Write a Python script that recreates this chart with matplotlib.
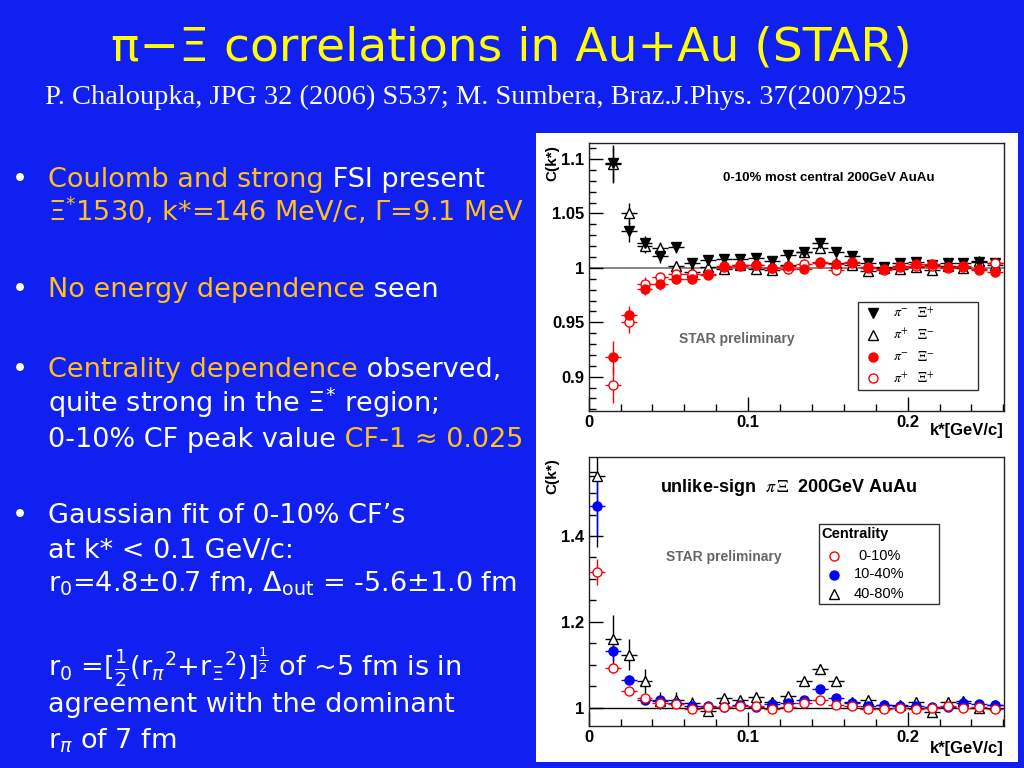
import matplotlib
matplotlib.use('Agg')
import matplotlib.pyplot as plt
from matplotlib.patches import Rectangle
from matplotlib.ticker import MultipleLocator

# ---------------- data ----------------
k_top = [0.015, 0.025, 0.035, 0.045, 0.055, 0.065, 0.075, 0.085, 0.095, 0.105,
         0.115, 0.125, 0.135, 0.145, 0.155, 0.165, 0.175, 0.185, 0.195, 0.205,
         0.215, 0.225, 0.235, 0.245, 0.255]
pim_xip = [1.096, 1.0335, 1.023, 1.0107, 1.019, 1.004, 1.007, 1.0085, 1.008, 1.009,
           1.0067, 1.0116, 1.015, 1.023, 1.0146, 1.011, 1.004, 1.001, 1.004, 1.005,
           1.003, 1.0046, 1.0046, 1.005, 1.0046]
pim_xip_err = [0.017, 0.010, 0.006, 0.006, 0.005, 0.004, 0.004, 0.004, 0.004, 0.004,
               0.004, 0.004, 0.004, 0.004, 0.004, 0.003, 0.003, 0.003, 0.003, 0.003,
               0.003, 0.003, 0.003, 0.003, 0.003]
pip_xim = [1.095, 1.050, 1.020, 1.018, 1.0015, 0.996, 1.0006, 0.9985, 1.0024, 0.9988,
           0.998, 1.0024, 1.015, 1.018, 1.0046, 1.003, 0.997, 1.000, 0.9985, 1.0006,
           0.9976, 1.0015, 0.9994, 1.006, 1.003]
pip_xim_err = [0.017, 0.010, 0.006, 0.006, 0.005, 0.004, 0.004, 0.004, 0.004, 0.004,
               0.004, 0.004, 0.004, 0.004, 0.004, 0.003, 0.003, 0.003, 0.003, 0.003,
               0.003, 0.003, 0.003, 0.003, 0.003]
pim_xim = [0.9177, 0.9567, 0.9808, 0.9848, 0.990, 0.990, 0.9933, 1.002, 1.002, 1.003,
           0.9994, 1.002, 0.999, 1.0058, 1.0037, 1.005, 1.000, 0.999, 1.002, 1.0037,
           1.0037, 1.0006, 1.0015, 0.9985, 0.996]
pim_xim_err = [0.015, 0.008, 0.006, 0.005, 0.004, 0.004, 0.004, 0.004, 0.004, 0.004,
               0.004, 0.004, 0.004, 0.004, 0.004, 0.003, 0.003, 0.003, 0.003, 0.003,
               0.003, 0.003, 0.003, 0.003, 0.003]
pip_xip = [0.8927, 0.9506, 0.9854, 0.9915, 0.9945, 0.9939, 0.9945, 1.001, 1.003, 1.0024,
           1.000, 0.9985, 1.0037, 1.0043, 0.9976, 1.0043, 1.0012, 0.9976, 1.0006, 1.0015,
           1.002, 1.000, 1.0006, 0.998, 1.0046]
pip_xip_err = [0.017, 0.010, 0.006, 0.005, 0.004, 0.004, 0.004, 0.004, 0.004, 0.004,
               0.004, 0.004, 0.004, 0.004, 0.004, 0.003, 0.003, 0.003, 0.003, 0.003,
               0.003, 0.003, 0.003, 0.003, 0.003]

k_bot = [0.005, 0.015, 0.025, 0.035, 0.045, 0.055, 0.065, 0.075, 0.085, 0.095,
         0.105, 0.115, 0.125, 0.135, 0.145, 0.155, 0.165, 0.175, 0.185, 0.195,
         0.205, 0.215, 0.225, 0.235, 0.245, 0.255]
c0_10 = [1.317, 1.093, 1.040, 1.022, 1.010, 1.008, 0.998, 1.002, 1.002, 1.004,
         1.004, 0.998, 1.002, 1.012, 1.019, 1.006, 1.004, 0.998, 0.998, 1.000,
         0.998, 1.000, 1.005, 0.999, 1.002, 0.998]
c0_10_err = [0.030, 0.012, 0.008, 0.006, 0.005, 0.005, 0.004, 0.004, 0.004, 0.004,
             0.004, 0.004, 0.004, 0.004, 0.004, 0.004, 0.004, 0.004, 0.004, 0.004,
             0.004, 0.004, 0.004, 0.004, 0.004, 0.004]
c10_40 = [1.469, 1.133, 1.064, 1.019, 1.018, 1.010, 1.005, 1.004, 1.002, 1.006,
          1.001, 1.008, 1.010, 1.019, 1.043, 1.022, 1.010, 1.005, 1.007, 1.005,
          1.004, 1.002, 1.002, 1.012, 1.008, 1.006]
c10_40_err = [0.070, 0.025, 0.012, 0.008, 0.007, 0.006, 0.005, 0.005, 0.005, 0.005,
              0.005, 0.005, 0.005, 0.005, 0.005, 0.005, 0.005, 0.005, 0.005, 0.005,
              0.005, 0.005, 0.005, 0.005, 0.005, 0.005]
c40_80 = [1.540, 1.159, 1.123, 1.063, 1.016, 1.019, 1.012, 0.993, 1.022, 1.018,
          1.026, 1.014, 1.027, 1.063, 1.091, 1.062, 1.013, 1.018, 1.006, 1.006,
          1.014, 0.991, 1.014, 1.016, 1.000, 1.006]
c40_80_err = [0.165, 0.058, 0.036, 0.028, 0.020, 0.018, 0.012, 0.012, 0.010, 0.010,
              0.010, 0.010, 0.010, 0.010, 0.010, 0.010, 0.010, 0.010, 0.010, 0.010,
              0.010, 0.010, 0.010, 0.010, 0.010, 0.010]
bin_half_width = 0.005

x_ticks = [0, 0.1, 0.2]
x_ticklabels = ['0', '0.1', '0.2']
top_yticks = [0.9, 0.95, 1.0, 1.05, 1.1]
top_yticklabels = ['0.9', '0.95', '1', '1.05', '1.1']
bot_yticks = [1.0, 1.2, 1.4]
bot_yticklabels = ['1', '1.2', '1.4']

top_leg_pi = [r'$\pi^{-}$', r'$\pi^{+}$', r'$\pi^{-}$', r'$\pi^{+}$']
top_leg_xi = [r'$\Xi^{+}$', r'$\Xi^{-}$', r'$\Xi^{-}$', r'$\Xi^{+}$']
bot_leg_title = 'Centrality'
bot_leg_labels = ['0-10%', '10-40%', '40-80%']

title = u'\u03c0\u2212\u039e correlations in Au+Au (STAR)'
subtitle = 'P. Chaloupka, JPG 32 (2006) S537; M. Sumbera, Braz.J.Phys. 37(2007)925'

BG = '#1020F0'
OR = '#FFC020'
WH = '#FFFFFF'
YEL = '#FFFF00'

W, H = 1024, 768
fig = plt.figure(figsize=(W / 100, H / 100), dpi=100)
fig.patch.set_facecolor(BG)


def fx(x):
    return x / W


def fy(y):
    return 1 - y / H


# white panel
fig.add_artist(Rectangle((fx(536), fy(762)), (1018 - 536) / W, (762 - 133) / H,
                         transform=fig.transFigure, facecolor='white',
                         edgecolor='none', zorder=-5))

PF = 'Liberation Sans'

ax1 = fig.add_axes([fx(588.7), fy(411), (1004 - 588.7) / W, (411 - 143.3) / H])
ax2 = fig.add_axes([fx(588.7), fy(726), (1004 - 588.7) / W, (726 - 457.3) / H])

for ax in (ax1, ax2):
    ax.set_xlim(0, 0.2604)
    ax.set_xticks(x_ticks)
    ax.set_xticklabels(x_ticklabels, fontweight='bold', fontsize=12, family=PF)
    ax.xaxis.set_minor_locator(MultipleLocator(0.02))
    ax.tick_params(which='major', direction='in', length=10, width=1, pad=3,
                   top=False, right=False)
    ax.tick_params(which='minor', direction='in', length=5, width=1,
                   top=False, right=False)
    for s in ax.spines.values():
        s.set_linewidth(1)
        s.set_color('#222222')
    ax.set_facecolor('white')

ax1.set_ylim(0.8685, 1.1144)
ax1.set_yticks(top_yticks)
ax1.set_yticklabels(top_yticklabels, fontweight='bold', fontsize=12, family=PF)
ax1.yaxis.set_minor_locator(MultipleLocator(0.01))

ax2.set_ylim(0.9573, 1.5834)
ax2.set_yticks(bot_yticks)
ax2.set_yticklabels(bot_yticklabels, fontweight='bold', fontsize=12, family=PF)
ax2.yaxis.set_minor_locator(MultipleLocator(0.05))

ax1.axhline(1.0, color='#707070', lw=1.2, zorder=1)
ax2.axhline(1.0, color='black', lw=1.0, zorder=1)

ms = 6.5
eb = dict(xerr=bin_half_width, capsize=0, elinewidth=1, lw=0, ms=ms, zorder=3)
ax1.errorbar(k_top, pip_xim, yerr=pip_xim_err, fmt='^', color='black', mfc='white', mec='black', mew=1, **eb)
ax1.errorbar(k_top, pim_xip, yerr=pim_xip_err, fmt='v', color='black', mfc='black', mec='black', **eb)
ax1.errorbar(k_top, pip_xip, yerr=pip_xip_err, fmt='o', color='red', mfc='white', mec='red', mew=1, **eb)
ax1.errorbar(k_top, pim_xim, yerr=pim_xim_err, fmt='o', color='red', mfc='red', mec='red', **eb)

ax2.errorbar(k_bot, c40_80, yerr=c40_80_err, fmt='^', color='black', mfc='white', mec='black', mew=1, **eb)
ax2.errorbar(k_bot, c10_40, yerr=c10_40_err, fmt='o', color='blue', mfc='blue', mec='blue', **eb)
ax2.errorbar(k_bot, c0_10, yerr=c0_10_err, fmt='o', color='red', mfc='white', mec='red', mew=1, **eb)

# axis titles
for ytop, ybot_lab in ((145, 430), (458, 749)):
    fig.text(fx(552), fy(ytop), 'C(k*)', rotation=90, ha='center', va='top',
             fontsize=11, fontweight='bold', family=PF)
    fig.text(fx(1004), fy(ybot_lab), 'k*[GeV/c]', ha='right', va='center',
             fontsize=12, fontweight='bold', family=PF)

# in-plot texts
fig.text(fx(828.5), fy(178.3), '0-10% most central 200GeV AuAu', ha='center', va='center',
         fontsize=9.5, fontweight='bold', family=PF)
fig.text(fx(737), fy(339), 'STAR preliminary', ha='center', va='center',
         fontsize=10, fontweight='bold', family=PF, color='#666666')
fig.text(fx(789), fy(487.7), r'unlike-sign  $\pi\,\Xi$  200GeV AuAu', ha='center', va='center',
         fontsize=13, fontweight='bold', family=PF, math_fontfamily='stix')
fig.text(fx(724), fy(556.7), 'STAR preliminary', ha='center', va='center',
         fontsize=10, fontweight='bold', family=PF, color='#666666')

# top legend
fig.add_artist(Rectangle((fx(857.7), fy(390)), (978.3 - 857.7) / W, (390 - 302.3) / H,
                         transform=fig.transFigure, facecolor='white', edgecolor='#333333',
                         lw=1, zorder=5))
leg_styles = [dict(marker='v', mfc='black', mec='black'),
              dict(marker='^', mfc='white', mec='black'),
              dict(marker='o', mfc='red', mec='red'),
              dict(marker='o', mfc='white', mec='red')]
rows_top = [313.3, 335, 356.7, 378.3]
for yy, st, lp, lx in zip(rows_top, leg_styles, top_leg_pi, top_leg_xi):
    fig.add_artist(plt.Line2D([fx(872.7)], [fy(yy)], transform=fig.transFigure, ls='none',
                              ms=ms, mew=1, zorder=6, **st))
    fig.text(fx(893), fy(yy), lp, ha='left', va='center', fontsize=10, math_fontfamily='stix', zorder=6)
    fig.text(fx(917), fy(yy), lx, ha='left', va='center', fontsize=10, math_fontfamily='stix', zorder=6)

# bottom legend
fig.add_artist(Rectangle((fx(818.7), fy(604)), (939.3 - 818.7) / W, (604 - 524.3) / H,
                         transform=fig.transFigure, facecolor='white', edgecolor='#333333',
                         lw=1, zorder=5))
fig.text(fx(821.5), fy(534), bot_leg_title, ha='left', va='center', fontsize=10.5,
         fontweight='bold', family=PF, zorder=6)
bot_styles = [dict(marker='o', mfc='white', mec='red'),
              dict(marker='o', mfc='blue', mec='blue'),
              dict(marker='^', mfc='white', mec='black')]
rows_bot = [555.7, 574.5, 594.3]
for yy, st, lab in zip(rows_bot, bot_styles, bot_leg_labels):
    fig.add_artist(plt.Line2D([fx(833.7)], [fy(yy)], transform=fig.transFigure, ls='none',
                              ms=ms, mew=1, zorder=6, **st))
    fig.text(fx(879.3), fy(yy), lab, ha='center', va='center', fontsize=10.5, family=PF, zorder=6)

# ---------------- slide text ----------------
fig.text(fx(511), fy(48), title, ha='center', va='center', fontsize=34, color=YEL,
         family='DejaVu Sans')
fig.text(fx(476), fy(97), subtitle, ha='center', va='center', fontsize=20.5, color=WH,
         family='Liberation Serif')

LF = 'DejaVu Sans'
LFS = 19.5
renderer = fig.canvas.get_renderer()


def seg_line(y, segs, bullet=False):
    xp = 48.3
    if bullet:
        fig.text(fx(20), fy(y), u'\u2022', color=WH, fontsize=LFS, va='baseline', ha='center', family=LF)
    for s, c in segs:
        t = fig.text(fx(xp), fy(y), s, color=c, fontsize=LFS, va='baseline', ha='left', family=LF)
        bb = t.get_window_extent(renderer=renderer)
        xp += bb.width


seg_line(186.7, [('Coulomb and strong', OR), (' FSI present', WH)], True)
seg_line(221, [(r'$\Xi^{*}$1530, k*=146 MeV/c, $\Gamma$=9.1 MeV', OR)])
seg_line(296.7, [('No energy dependence', OR), (' seen', WH)], True)
seg_line(376.7, [('Centrality dependence', OR), (' observed,', WH)], True)
seg_line(411.7, [(r'quite strong in the $\Xi^{*}$ region;', WH)])
seg_line(446.7, [('0-10% CF peak value', WH), (u' CF-1 \u2248 0.025', OR)])
seg_line(523.3, [(u'Gaussian fit of 0-10% CF\u2019s', WH)], True)
seg_line(558.3, [('at k* < 0.1 GeV/c:', WH)])
seg_line(591.7, [(r'r$_0$=4.8$\pm$0.7 fm, $\Delta_{\mathrm{out}}$ = -5.6$\pm$1.0 fm', WH)])
seg_line(676.7, [(r'r$_0$ =[$\frac{1}{2}$(r$_\pi$$^2$+r$_\Xi$$^2$)]$^{\frac{1}{2}}$ of ~5 fm is in', WH)])
seg_line(711.7, [('agreement with the dominant', WH)])
seg_line(748.3, [(r'r$_\pi$ of 7 fm', WH)])

fig.savefig('out.png', dpi=100, facecolor=BG)
